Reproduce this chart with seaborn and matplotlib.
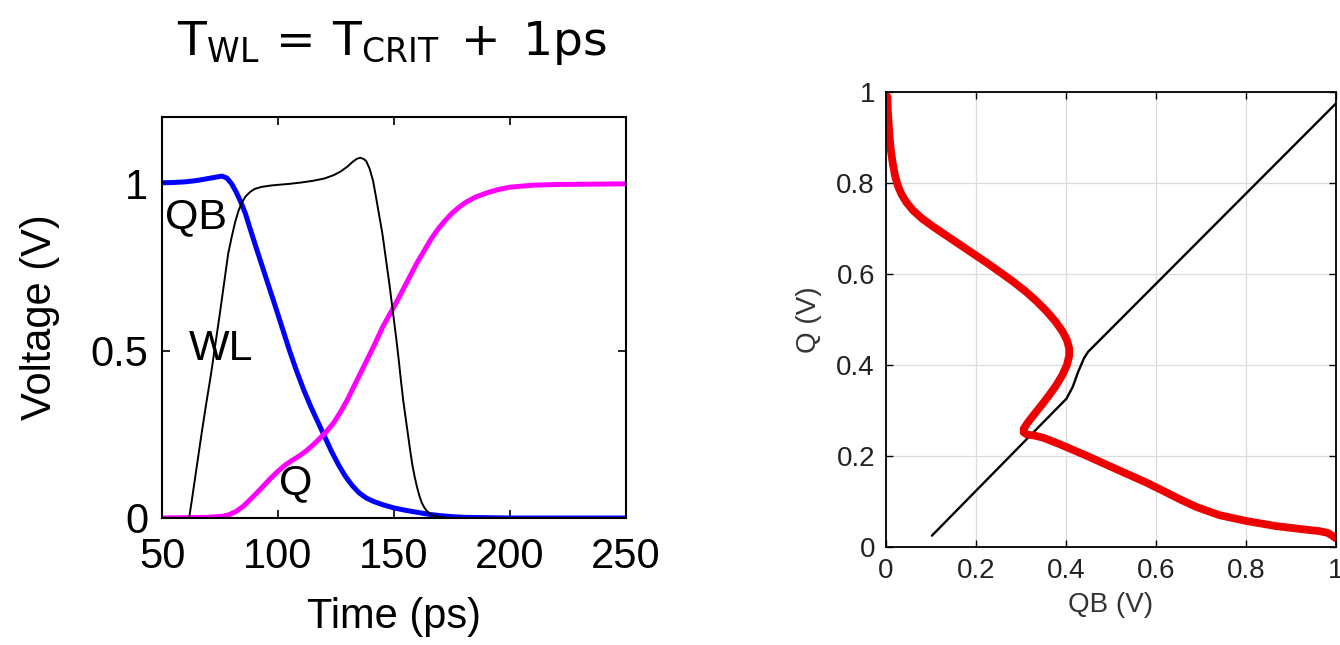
import matplotlib
matplotlib.use("Agg")
import matplotlib.pyplot as plt
import seaborn as sns

# ---- transient waveforms: time (ps) and node voltage (V) ----
qb_time = [50, 55, 60, 65, 70, 74, 76, 78, 80, 82, 84, 86, 88, 91, 95, 99, 102,
           105, 108, 111, 114, 117, 120, 123, 126, 129, 132, 135, 138, 141, 145,
           150, 155, 160, 165, 170, 175, 180, 190, 200, 250]
qb_volt = [1.003, 1.004, 1.006, 1.010, 1.016, 1.021, 1.023, 1.017, 1.000, 0.975,
           0.945, 0.910, 0.865, 0.800, 0.715, 0.630, 0.565, 0.500, 0.440, 0.385,
           0.335, 0.290, 0.245, 0.200, 0.160, 0.125, 0.097, 0.075, 0.060, 0.050,
           0.040, 0.030, 0.023, 0.017, 0.011, 0.007, 0.004, 0.002, 0.001, 0.0, 0.0]

q_time = [50, 60, 70, 76, 79, 82, 85, 88, 91, 94, 97, 100, 103, 106, 109, 112,
          115, 118, 121, 124, 127, 130, 133, 136, 139, 142, 145, 148, 151, 154,
          157, 160, 163, 166, 169, 172, 175, 178, 181, 185, 190, 195, 200, 210,
          220, 235, 250]
q_volt = [0.000, 0.001, 0.002, 0.005, 0.010, 0.020, 0.035, 0.055, 0.076, 0.098,
          0.120, 0.140, 0.158, 0.172, 0.185, 0.200, 0.218, 0.238, 0.260, 0.285,
          0.318, 0.355, 0.398, 0.440, 0.482, 0.525, 0.570, 0.608, 0.645, 0.685,
          0.725, 0.765, 0.800, 0.835, 0.865, 0.890, 0.912, 0.930, 0.945, 0.960,
          0.973, 0.983, 0.990, 0.996, 0.998, 0.999, 1.000]

wl_time = [50, 61.7, 63, 65, 67, 69, 71, 73, 75, 77, 78.5, 80, 81.5, 83, 84.5,
           86, 88, 90, 93, 97, 100, 105, 110, 115, 120, 124, 127, 130, 132, 134,
           135.5, 137, 138, 139.5, 141, 142.5, 144, 145, 146, 147, 148, 149, 150,
           151, 152, 153, 154, 155, 156, 157, 158, 159, 160, 161, 162, 163, 164,
           166, 168, 172, 178, 250]
wl_volt = [0.0, 0.0, 0.06, 0.155, 0.25, 0.34, 0.425, 0.52, 0.615, 0.715, 0.79,
           0.84, 0.885, 0.92, 0.945, 0.962, 0.976, 0.985, 0.991, 0.995, 0.997,
           1.000, 1.004, 1.009, 1.016, 1.026, 1.037, 1.052, 1.065, 1.075, 1.078,
           1.074, 1.068, 1.045, 1.008, 0.95, 0.89, 0.85, 0.80, 0.75, 0.70, 0.645,
           0.59, 0.535, 0.475, 0.41, 0.35, 0.30, 0.25, 0.20, 0.155, 0.12, 0.09,
           0.065, 0.045, 0.032, 0.022, 0.010, 0.005, 0.001, 0.0, 0.0]

# ---- butterfly plot: Q versus QB (V) ----
vtc_qb = [0.003, 0.004, 0.006, 0.008, 0.011, 0.015, 0.020, 0.026, 0.034, 0.045,
          0.060, 0.080, 0.105, 0.135, 0.165, 0.195, 0.225, 0.255, 0.283, 0.310,
          0.335, 0.358, 0.377, 0.392, 0.402, 0.407, 0.407, 0.402, 0.392, 0.378,
          0.362, 0.345, 0.328, 0.314, 0.306, 0.306, 0.314, 0.330, 0.350, 0.386,
          0.445, 0.519, 0.578, 0.623, 0.655, 0.690, 0.741, 0.802, 0.867, 0.926,
          0.963, 0.982, 0.993, 1.000]
vtc_q = [0.990, 0.960, 0.930, 0.900, 0.870, 0.843, 0.816, 0.795, 0.776, 0.758,
         0.740, 0.722, 0.704, 0.684, 0.664, 0.644, 0.624, 0.603, 0.583, 0.562,
         0.540, 0.517, 0.495, 0.474, 0.455, 0.437, 0.420, 0.400, 0.378, 0.355,
         0.333, 0.311, 0.290, 0.272, 0.260, 0.252, 0.247, 0.245, 0.240, 0.226,
         0.201, 0.168, 0.142, 0.120, 0.104, 0.088, 0.070, 0.057, 0.046, 0.039,
         0.035, 0.031, 0.024, 0.019]

line_qb = [0.102, 0.401, 0.415, 0.427, 0.440, 0.449, 1.000]
line_q = [0.025, 0.326, 0.352, 0.385, 0.415, 0.429, 0.975]

time_ticks = [50, 100, 150, 200, 250]
volt_ticks = [0, 0.5, 1]
volt_tick_text = ["0", "0.5", "1"]
bf_ticks = [0, 0.2, 0.4, 0.6, 0.8, 1]
bf_tick_text = ["0", "0.2", "0.4", "0.6", "0.8", "1"]

sns.set_style("ticks")
plt.rcParams["font.family"] = ["Liberation Sans", "DejaVu Sans"]
plt.rcParams["mathtext.fontset"] = "dejavusans"
plt.rcParams["text.color"] = "black"
plt.rcParams["axes.labelcolor"] = "black"
plt.rcParams["xtick.color"] = "black"
plt.rcParams["ytick.color"] = "black"

fig = plt.figure(figsize=(13.4, 6.45), dpi=100)
ax1 = fig.add_axes([0.1209, 0.1969, 0.3463, 0.6217])
ax2 = fig.add_axes([0.6612, 0.1519, 0.3358, 0.7054])

# ---- left panel: waveforms ----
sns.lineplot(x=qb_time, y=qb_volt, ax=ax1, color="#0000ff", linewidth=3.6,
             estimator=None, sort=False)
sns.lineplot(x=q_time, y=q_volt, ax=ax1, color="#ff00ff", linewidth=3.6,
             estimator=None, sort=False)
sns.lineplot(x=wl_time, y=wl_volt, ax=ax1, color="black", linewidth=1.4,
             estimator=None, sort=False)

ax1.set_xlim(50, 250)
ax1.set_ylim(0, 1.2)
ax1.set_xticks(time_ticks)
ax1.set_xticklabels([str(t) for t in time_ticks])
ax1.set_yticks(volt_ticks)
ax1.set_yticklabels(volt_tick_text)
ax1.tick_params(direction="in", length=6, width=1.2, top=True, right=True,
                labelsize=30, colors="black")
ax1.tick_params(axis="x", pad=14)
ax1.tick_params(axis="y", pad=10)
for sp in ax1.spines.values():
    sp.set_visible(True)
    sp.set_color("black")
    sp.set_linewidth(1.5)
ax1.set_xlabel("Time (ps)", fontsize=30, labelpad=14, color="black")
ax1.set_ylabel("Voltage (V)", fontsize=30, labelpad=22, color="black")

ax1.text(64.7, 0.90, "QB", fontsize=31, ha="center", va="center", color="black")
ax1.text(75.4, 0.505, "WL", fontsize=31, ha="center", va="center", color="black")
ax1.text(107.8, 0.105, "Q", fontsize=31, ha="center", va="center", color="black")

fig.text(0.2925, 0.915, r"$\mathrm{T_{WL}\,=\,T_{CRIT}\;+\;1ps}$",
         fontsize=34, ha="center", va="baseline", color="black")

# ---- right panel: butterfly curve ----
ax2.grid(True, color="#dcdcdc", linewidth=0.9)
ax2.set_axisbelow(True)
sns.lineplot(x=line_qb, y=line_q, ax=ax2, color="black", linewidth=1.7,
             estimator=None, sort=False)
sns.lineplot(x=vtc_qb, y=vtc_q, ax=ax2, color="#ee0000", linewidth=5.6,
             estimator=None, sort=False, solid_capstyle="round")
ax2.set_xlim(0, 1)
ax2.set_ylim(0, 1)
ax2.set_xticks(bf_ticks)
ax2.set_xticklabels(bf_tick_text)
ax2.set_yticks(bf_ticks)
ax2.set_yticklabels(bf_tick_text)
ax2.tick_params(direction="in", length=5, width=1.0, top=True, right=True,
                labelsize=20, colors="black", labelcolor="#222222", pad=8)
for sp in ax2.spines.values():
    sp.set_visible(True)
    sp.set_color("black")
    sp.set_linewidth(1.3)
ax2.set_xlabel("QB (V)", fontsize=20, color="#333333", labelpad=6)
ax2.set_ylabel("Q (V)", fontsize=20, color="#333333", labelpad=10)

fig.savefig("out.png", dpi=100)
